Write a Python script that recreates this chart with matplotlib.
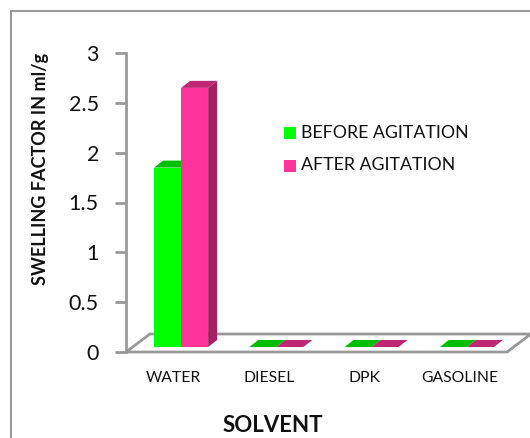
import matplotlib
matplotlib.use("Agg")
import matplotlib.pyplot as plt
from matplotlib.patches import Polygon, Rectangle

plt.rcParams['font.family'] = ['Lato', 'DejaVu Sans']

# data
solvents = ["WATER", "DIESEL", "DPK", "GASOLINE"]
before = [1.8, 0, 0, 0]
after = [2.6, 0, 0, 0]
y_ticks = [0, 0.5, 1, 1.5, 2, 2.5, 3]
y_tick_labels = ["0", "0.5", "1", "1.5", "2", "2.5", "3"]

W, H = 530, 438
fig = plt.figure(figsize=(W / 100, H / 100), dpi=100)
ax = fig.add_axes([126 / W, (H - 352) / H, 381 / W, 299 / H])
ax.set_xlim(0, 4)
ax.set_ylim(0, 3)

# pixels -> data units, the 3d look is faked with oblique offsets
px_x = 4 / 381
px_y = 3 / 299
GREY = "#999999"


def bar3d(x0, width, value, front, top, side):
    x = x0 + 7.5 * px_x
    y = 5 * px_y
    dx = 9 * px_x
    dy = 7 * px_y
    if value > 0:
        ax.add_patch(Rectangle((x, y), width, value, fc=front, ec="none", zorder=3))
        ax.add_patch(Polygon([(x + width, y), (x + width + dx, y + dy),
                              (x + width + dx, y + value + dy), (x + width, y + value)],
                             fc=side, ec="none", zorder=3))
    ax.add_patch(Polygon([(x, y + value), (x + dx, y + value + dy),
                          (x + width + dx, y + value + dy), (x + width, y + value)],
                         fc=top, ec="none", zorder=2.5))


# floor of the 3d box
ax.add_patch(Polygon([(0, 0), (24 * px_x, 18 * px_y), (4 + 24 * px_x, 18 * px_y), (4, 0)],
                     closed=True, fc="white", ec=GREY, lw=2, clip_on=False, zorder=1))

bar_w = 27 * px_x
for i in range(len(solvents)):
    c = i + 0.5
    bar3d(c - bar_w, bar_w, before[i], "#00FF00", "#00BF00", "#00A000")
    bar3d(c, bar_w, after[i], "#FF3399", "#BF2673", "#A62063")

for s in ["top", "right", "bottom"]:
    ax.spines[s].set_visible(False)
ax.spines["left"].set_color(GREY)
ax.spines["left"].set_linewidth(2)
ax.set_yticks(y_ticks)
ax.set_yticklabels(y_tick_labels, fontsize=15.5, color="#111111")
ax.tick_params(axis="y", length=8, width=2, color=GREY, pad=11.5)
ax.set_xticks([i + 0.5 for i in range(len(solvents))])
ax.set_xticklabels(solvents, fontsize=11.3, color="#111111")
ax.tick_params(axis="x", length=0, pad=13.5)

# outer chart frame
fig.add_artist(Rectangle((11 / W, -5 / H), 525 / W, (H - 11 + 5) / H, transform=fig.transFigure,
                         fc="none", ec=GREY, lw=1.5))

fig.text(273 / W, 1 - 425 / H, "SOLVENT", ha="center", va="center", fontsize=16, fontweight="bold", color="#111111")
fig.text(41 / W, 1 - 169 / H, "SWELLING FACTOR IN ml/g", ha="center", va="center", rotation=90,
         fontsize=13, fontweight="bold", color="#111111")

# legend
for py, col, lab in [(133, "#00FF00", "BEFORE AGITATION"), (165.5, "#FF3399", "AFTER AGITATION")]:
    fig.add_artist(Rectangle((284 / W, 1 - (py + 6) / H), 12 / W, 12 / H, transform=fig.transFigure, fc=col, ec="none"))
    fig.text(301 / W, 1 - py / H, lab, ha="left", va="center", fontsize=12.8, color="#111111")

fig.savefig("out.png", dpi=100)
